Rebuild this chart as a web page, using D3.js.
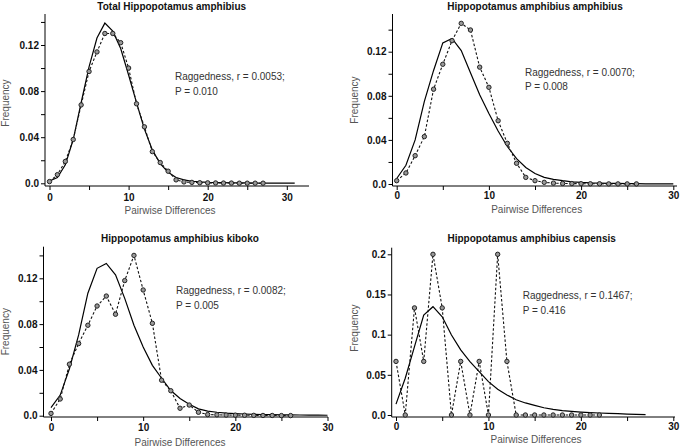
<!DOCTYPE html>
<html><head><meta charset="utf-8">
<script src="https://cdn.jsdelivr.net/npm/d3@7"></script>
<style>
body{margin:0;background:#fff;}
svg{display:block;font-family:"Liberation Sans",Arial,sans-serif;}
</style></head>
<body><svg id="c" width="685" height="448"></svg>
<script>
// ---- data ----
const titles = ["Total Hippopotamus amphibius","Hippopotamus amphibius amphibius","Hippopotamus amphibius kiboko","Hippopotamus amphibius capensis"];
const raggedness = ["Raggedness, r = 0.0053;","Raggedness, r = 0.0070;","Raggedness, r = 0.0082;","Raggedness, r = 0.1467;"];
const pValues = ["P = 0.010","P = 0.008","P = 0.005","P = 0.416"];
const xTickLabels = [0,10,20,30];

const observedTotal = [0.0015,0.0075,0.019,0.038,0.068,0.097,0.114,0.13,0.13,0.122,0.1,0.069,0.049,0.0275,0.018,0.0105,0.003,0.0012,0.0008,0.0005,0.0004,0.0003,0.0002,0.0002,0.0001,0.0001,0.0001,0.0001];
const expectedTotal = [0.002,0.005,0.016,0.038,0.07,0.101,0.126,0.139,0.132,0.117,0.094,0.07,0.047,0.029,0.017,0.0095,0.005,0.003,0.0018,0.0012,0.0008,0.0006,0.0005,0.0004,0.0003,0.0003,0.0002,0.0002,0.0002,0.0001,0.0001,0.0001];

const observedAmphibius = [0.003,0.01,0.0257,0.043,0.086,0.1086,0.13,0.1457,0.1397,0.106,0.0877,0.0574,0.0369,0.0188,0.006,0.003,0.0015,0.0008,0.0005,0.0004,0.0003,0.0002,0.0002,0.0001,0.0001,0.0001,0.0001];
const expectedAmphibius = [0.005,0.017,0.04,0.075,0.103,0.128,0.132,0.121,0.101,0.081,0.064,0.048,0.034,0.023,0.015,0.0095,0.006,0.0042,0.003,0.002,0.0014,0.001,0.0008,0.0006,0.0005,0.0004,0.0003,0.0002,0.0002,0.0001,0.0001];

const observedKiboko = [0.002,0.0146,0.045,0.063,0.079,0.0958,0.1045,0.0886,0.118,0.14,0.1098,0.0807,0.031,0.0218,0.0065,0.0093,0.003,0.001,0.0008,0.0006,0.0005,0.0004,0.0003,0.0002,0.0002,0.0001,0.0001];
const expectedKiboko = [0.007,0.018,0.041,0.0705,0.107,0.1287,0.133,0.123,0.1025,0.079,0.06,0.044,0.0327,0.022,0.015,0.01,0.006,0.004,0.003,0.0022,0.0018,0.0015,0.0012,0.001,0.0009,0.0008,0.0007,0.0006,0.0005,0.0005,0.0004];

const observedCapensis = [0.0667,0,0.1333,0.0667,0.2,0.1333,0,0.0667,0,0.0667,0,0.2,0.0667,0,0,0,0,0,0,0,0,0,0];
const expectedCapensis = [0.0135,0.0457,0.085,0.1245,0.1348,0.1223,0.0996,0.081,0.0664,0.054,0.0415,0.032,0.025,0.019,0.015,0.012,0.009,0.007,0.0055,0.0045,0.0037,0.003,0.0025,0.002,0.0017,0.0012,0.0008,0.0005];

// ---- layout ----
const panels = [
  {obs:observedTotal, exp:expectedTotal, xr:[49.5,286.8], yd:[0,0.12], yr:[183.3,45], yAxisX:45, xAxisY:186, yTop:14, xEnd:309, yTicks:d3.range(0,0.141,0.02), yLab:[0,0.04,0.08,0.12], tx:171.7, ty:10, rx:175, ry:80, fx:9, fy:103, xt:170, xty:214, xl:14.5},
  {obs:observedAmphibius, exp:expectedAmphibius, xr:[396.7,673.3], yd:[0,0.12], yr:[184,51.7], yAxisX:392.5, xAxisY:186, yTop:14, xEnd:677, yTicks:d3.range(0,0.141,0.02), yLab:[0,0.04,0.08,0.12], tx:535, ty:10, rx:525, ry:75.5, fx:358, fy:100, xt:536.7, xty:213, xl:13},
  {obs:observedKiboko, exp:expectedKiboko, xr:[51,327.5], yd:[0,0.12], yr:[415.7,278.3], yAxisX:43.5, xAxisY:417, yTop:246.7, xEnd:328, yTicks:d3.range(0,0.141,0.02), yLab:[0,0.04,0.08,0.12], tx:180, ty:242, rx:176, ry:294, fx:9, fy:331.7, xt:180, xty:446, xl:14},
  {obs:observedCapensis, exp:expectedCapensis, xr:[396,673.3], yd:[0,0.2], yr:[415,254.3], yAxisX:391.7, xAxisY:417, yTop:247.7, xEnd:675, yTicks:[0,0.05,0.1,0.15,0.2], yLab:[0,0.05,0.1,0.15,0.2], tx:531.7, ty:242, rx:522.7, ry:299, fx:358, fy:328, xt:536, xty:443, xl:12.5}
];

const svg = d3.select("#c");

panels.forEach((p,i)=>{
  const x = d3.scaleLinear().domain([0,30]).range(p.xr);
  const y = d3.scaleLinear().domain(p.yd).range(p.yr);
  const g = svg.append("g");

  // axes lines
  g.append("line").attr("x1",p.yAxisX).attr("x2",p.yAxisX).attr("y1",p.yTop).attr("y2",p.xAxisY).attr("stroke","#000").attr("stroke-width",1);
  g.append("line").attr("x1",p.yAxisX).attr("x2",p.xEnd).attr("y1",p.xAxisY).attr("y2",p.xAxisY).attr("stroke","#000").attr("stroke-width",1);

  // x axis
  const xa = d3.axisBottom(x).tickValues(d3.range(0,31,5)).tickSize(4).tickSizeOuter(0)
    .tickFormat(d => xTickLabels.includes(d) ? d : "");
  const gx = g.append("g").attr("transform",`translate(0,${p.xAxisY})`).call(xa);
  gx.select(".domain").remove();
  gx.selectAll("text").attr("font-size",10).attr("font-weight","bold").attr("fill","#111")
    .attr("y",p.xl).attr("dy",0).attr("font-family","Liberation Sans, Arial, sans-serif");

  // y axis
  const ya = d3.axisLeft(y).tickValues(p.yTicks).tickSize(4).tickSizeOuter(0)
    .tickFormat(d => p.yLab.some(v=>Math.abs(v-d)<1e-9) ? (d===0 ? "0.0" : (i===3 ? String(+d.toFixed(2)) : d.toFixed(2))) : "");
  const gy = g.append("g").attr("transform",`translate(${p.yAxisX},0)`).call(ya);
  gy.select(".domain").remove();
  gy.selectAll("text").attr("font-size",10).attr("font-weight","bold").attr("fill","#111").attr("x",-6).attr("font-family","Liberation Sans, Arial, sans-serif");

  // expected (solid)
  const line = d3.line().x((d,k)=>x(k)).y(d=>y(d));
  g.append("path").datum(p.exp).attr("d",line).attr("fill","none").attr("stroke","#000").attr("stroke-width",1.2);
  // observed (dashed with circles)
  g.append("path").datum(p.obs).attr("d",line).attr("fill","none").attr("stroke","#111").attr("stroke-width",1.1).attr("stroke-dasharray","2.5,2");
  g.selectAll("circle").data(p.obs).enter().append("circle")
    .attr("cx",(d,k)=>x(k)).attr("cy",d=>y(d)).attr("r",2.2)
    .attr("fill","#999").attr("stroke","#222").attr("stroke-width",1);

  // texts
  g.append("text").attr("x",p.tx).attr("y",p.ty).attr("text-anchor","middle").attr("font-size",10).attr("font-weight","bold").attr("fill","#111").text(titles[i]);
  g.append("text").attr("x",p.rx).attr("y",p.ry).attr("font-size",10).attr("fill","#333").text(raggedness[i]);
  g.append("text").attr("x",p.rx).attr("y",p.ry+14.5).attr("font-size",10).attr("fill","#333").text(pValues[i]);
  g.append("text").attr("x",p.xt).attr("y",p.xty).attr("text-anchor","middle").attr("font-size",10).attr("fill","#555").text("Pairwise Differences");
  g.append("text").attr("transform",`translate(${p.fx},${p.fy}) rotate(-90)`).attr("text-anchor","middle").attr("font-size",10).attr("fill","#555").text("Frequency");
});
</script></body></html>
